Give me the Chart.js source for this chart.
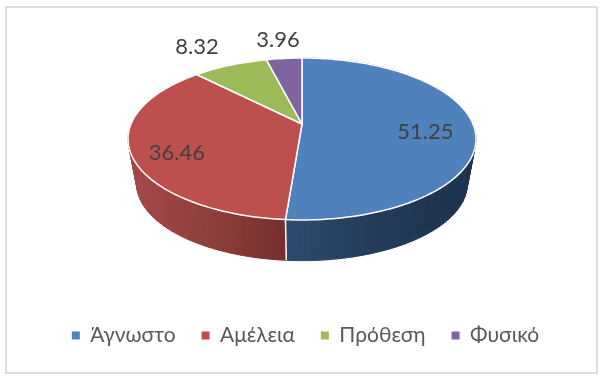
<!DOCTYPE html>
<html>
<head>
<meta charset="utf-8">
<style>
html,body{margin:0;padding:0;background:#fff;}
canvas{display:block;filter:blur(0.45px);}
</style>
<script src="https://cdn.jsdelivr.net/npm/chart.js@4"></script>
</head>
<body>
<canvas id="pie" width="604" height="382"></canvas>
<script>
const categories = ["Άγνωστο","Αμέλεια","Πρόθεση","Φυσικό"];
const values = [51.25,36.46,8.32,3.96];
const colors = ["#4F81BD","#BD4F4D","#9BBB59","#8064A2"];
const fontName = "Lato, 'Open Sans', sans-serif";

// the pie is seen from above, so the circle goes through a perspective map
const view = {cx:302, cy:124, a:171, b:78.2, k:0.185, depth:45.5, shrink:0.95};

function project(angle,r,bottom){
    const u = Math.cos(angle)*r;
    const v = Math.sin(angle)*r;
    const w = 1-view.k*v;
    const s = bottom ? view.shrink : 1;
    return {
        x:view.cx+s*view.a*u/w,
        y:view.cy+(bottom?view.depth:0)+s*view.b*v/w
    };
}

function rim(ctx,from,to,bottom){
    const steps = Math.max(2,Math.ceil(Math.abs(to-from)*40));
    for(let i=0;i<=steps;i++){
        const p = project(from+(to-from)*i/steps,1,bottom);
        ctx.lineTo(p.x,p.y);
    }
}

const pie3d = {
    id:"pie3d",
    beforeDraw(chart,args,opts){
        const ctx = chart.ctx;
        ctx.save();
        ctx.strokeStyle = opts.frame;
        ctx.lineWidth = 2;
        ctx.strokeRect(6,7,591,366);
        ctx.restore();
    },
    beforeDatasetsDraw(chart,args,opts){
        const ctx = chart.ctx;
        const arcs = chart.getDatasetMeta(0).data;
        ctx.save();

        // sides first, the top face covers whatever is behind
        arcs.forEach((arc,i)=>{
            const side = opts.sides[i];
            if(!side) return;
            const g = ctx.createLinearGradient(opts.sideX[i][0],0,opts.sideX[i][1],0);
            g.addColorStop(0,side[0]);
            g.addColorStop(0.5,side[1]);
            g.addColorStop(1,side[2]);
            ctx.fillStyle = g;
            // strip by strip so the outline between both rims stays filled
            const n = 60;
            for(let j=0;j<n;j++){
                const t0 = arc.startAngle+(arc.endAngle-arc.startAngle)*j/n;
                const t1 = arc.startAngle+(arc.endAngle-arc.startAngle)*(j+1)/n;
                ctx.beginPath();
                const p = project(t0,1,false);
                ctx.moveTo(p.x,p.y);
                rim(ctx,t0,t1,false);
                rim(ctx,t1,t0,true);
                ctx.closePath();
                ctx.fill();
                ctx.strokeStyle = g;
                ctx.lineWidth = 1;
                ctx.stroke();
            }
        });

        // white divider on the side where the front slices meet
        const split = arcs[0].endAngle;
        const t = project(split,1,false);
        const d = project(split,1,true);
        ctx.strokeStyle = "#fff";
        ctx.lineWidth = 1.5;
        ctx.beginPath();
        ctx.moveTo(t.x,t.y);
        ctx.lineTo(d.x,d.y);
        ctx.stroke();

        // top face
        arcs.forEach((arc,i)=>{
            ctx.beginPath();
            ctx.moveTo(view.cx,view.cy);
            rim(ctx,arc.startAngle,arc.endAngle,false);
            ctx.closePath();
            ctx.fillStyle = arc.options.backgroundColor;
            ctx.fill();
            ctx.strokeStyle = "#fff";
            ctx.lineWidth = 1.5;
            ctx.lineJoin = "round";
            ctx.stroke();
        });

        // value labels
        ctx.font = "22px "+fontName;
        ctx.textAlign = "center";
        ctx.textBaseline = "middle";
        arcs.forEach((arc,i)=>{
            const spot = opts.labelSpots[i];
            const p = project((arc.startAngle+arc.endAngle)/2,spot[0],false);
            ctx.fillStyle = opts.labelColor;
            ctx.fillText(values[i].toFixed(2),p.x+spot[1],p.y+spot[2]);
        });
        ctx.restore();
        return false;
    }
};

new Chart(document.getElementById("pie"),{
    type:"pie",
    data:{
        labels:categories,
        datasets:[{data:values,backgroundColor:colors,borderWidth:0}]
    },
    options:{
        responsive:false,
        animation:false,
        layout:{padding:{bottom:26,left:7}},
        plugins:{
            tooltip:{enabled:false},
            legend:{
                position:"bottom",
                labels:{
                    boxWidth:8,
                    boxHeight:8,
                    padding:26,
                    color:"#595959",
                    font:{family:fontName,size:21}
                }
            },
            pie3d:{
                frame:"#dcdcdc",
                labelColor:"#404040",
                labelSpots:[[0.73,-2,6],[0.73,-2,9],[1,-33,-18],[1,-6,-19]],
                sides:[["#2D4B6F","#223A58","#1E324F"],["#A5474A","#8F3F3C","#762F2D"],null,null],
                sideX:[[286,470],[132,286],[0,1],[0,1]]
            }
        }
    },
    plugins:[pie3d]
});
</script>
</body>
</html>
